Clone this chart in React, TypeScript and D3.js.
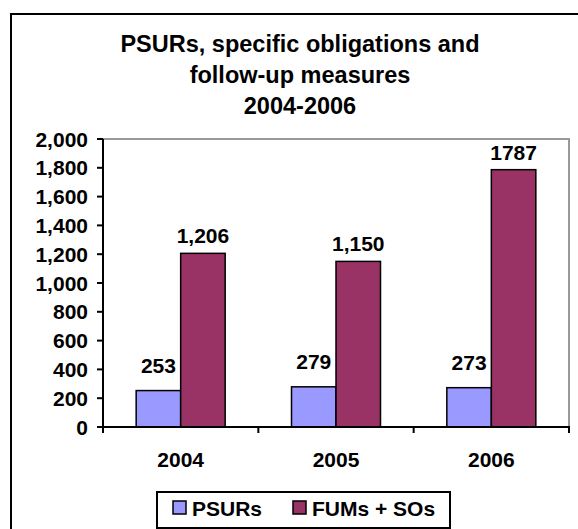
import React from "react";
import * as d3 from "d3";

const categories = ["2004", "2005", "2006"];
const psurs = [253, 279, 273];
const fums = [1206, 1150, 1787];
const fumLabels = ["1,206", "1,150", "1787"];
const yTicks = [0, 200, 400, 600, 800, 1000, 1200, 1400, 1600, 1800, 2000];
const seriesNames = ["PSURs", "FUMs + SOs"];
const seriesColors = ["#9999FF", "#993366"];
const titleLines = ["PSURs, specific obligations and", "follow-up measures", "2004-2006"];

const W = 578;
const H = 529;
const plot = { left: 103, right: 569, top: 139, bottom: 427 };
const FONT = "'Liberation Sans', Arial, sans-serif";

export default function App() {
  const x = d3
    .scaleBand<string>()
    .domain(categories)
    .range([plot.left, plot.right])
    .paddingInner(0)
    .paddingOuter(0);
  const y = d3.scaleLinear().domain([0, 2000]).range([plot.bottom, plot.top]);
  const barW = 44.5;
  const fmt = d3.format(",");

  return (
    <svg
      width={W}
      height={H}
      style={{ position: "absolute", left: 0, top: 0, background: "#fff" }}
      fontFamily={FONT}
      fontWeight="bold"
    >
      <rect x={0} y={0} width={W} height={H} fill="#fff" />
      {/* outer frame */}
      <rect x={11} y={14} width={W + 20} height={H + 20} fill="none" stroke="#000" strokeWidth={2} />

      {/* title */}
      {titleLines.map((t, i) => (
        <text key={i} x={300} y={52 + i * 31} textAnchor="middle" fontSize={23.5} fill="#000">
          {t}
        </text>
      ))}

      {/* plot area border (gray) */}
      <path
        d={`M${plot.left},${plot.top}H${plot.right}V${plot.bottom}`}
        fill="none"
        stroke="#999"
        strokeWidth={2}
      />

      {/* bars */}
      {categories.map((c, i) => {
        const cx = (x(c) as number) + x.bandwidth() / 2;
        return (
          <g key={c}>
            <rect
              x={cx - barW}
              y={y(psurs[i])}
              width={barW}
              height={y(0) - y(psurs[i])}
              fill={seriesColors[0]}
              stroke="#000"
              strokeWidth={1.5}
            />
            <rect
              x={cx}
              y={y(fums[i])}
              width={barW}
              height={y(0) - y(fums[i])}
              fill={seriesColors[1]}
              stroke="#000"
              strokeWidth={1.5}
            />
            <text x={cx - barW / 2} y={y(psurs[i]) - 18} textAnchor="middle" fontSize={21}>
              {psurs[i]}
            </text>
            <text x={cx + barW / 2} y={y(fums[i]) - 10} textAnchor="middle" fontSize={21}>
              {fumLabels[i]}
            </text>
            <text x={cx} y={467} textAnchor="middle" fontSize={21}>
              {c}
            </text>
          </g>
        );
      })}

      {/* y axis */}
      <line x1={plot.left} x2={plot.left} y1={plot.top} y2={plot.bottom + 6} stroke="#000" strokeWidth={2} />
      {yTicks.map((t) => (
        <g key={t}>
          <line x1={plot.left - 6} x2={plot.left} y1={y(t)} y2={y(t)} stroke="#000" strokeWidth={2} />
          <text x={88} y={y(t) + 7.5} textAnchor="end" fontSize={21}>
            {fmt(t)}
          </text>
        </g>
      ))}

      {/* x axis */}
      <line x1={plot.left - 6} x2={plot.right + 1} y1={plot.bottom} y2={plot.bottom} stroke="#000" strokeWidth={2} />
      {categories.concat(["end"]).map((c, i) => {
        const xx = plot.left + i * x.bandwidth();
        return <line key={c} x1={xx} x2={xx} y1={plot.bottom} y2={plot.bottom + 6} stroke="#000" strokeWidth={2} />;
      })}

      {/* legend */}
      <rect x={157} y={492} width={293} height={36} fill="#fff" stroke="#000" strokeWidth={2} />
      {seriesNames.map((n, i) => {
        const sx = i === 0 ? 173 : 293;
        return (
          <g key={n}>
            <rect x={sx} y={501} width={13} height={13} fill={seriesColors[i]} stroke="#000" strokeWidth={1.5} />
            <text x={sx + 19} y={515.5} fontSize={21}>
              {n}
            </text>
          </g>
        );
      })}
    </svg>
  );
}
